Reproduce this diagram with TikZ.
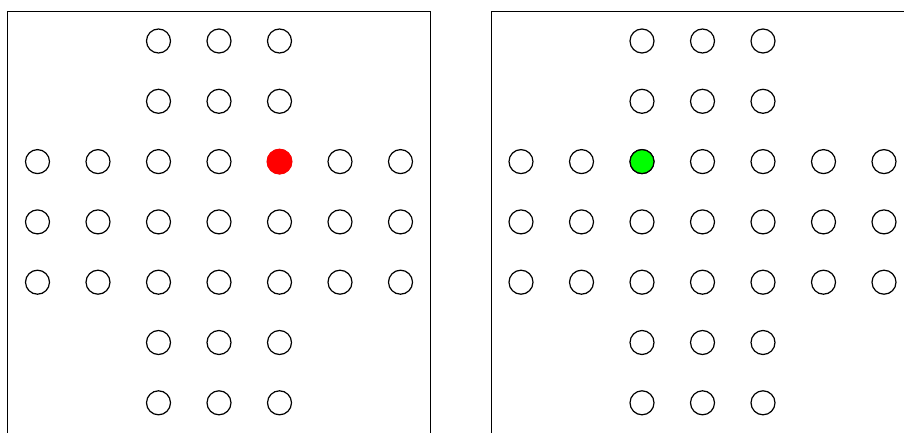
\documentclass[tikz,border=0pt]{standalone}
\definecolor{pegred}{RGB}{255,0,0}
\definecolor{peggreen}{RGB}{0,255,0}
\tikzset{
  hole/.style={circle, draw=black, line width=1.2pt, minimum size=24pt, inner sep=0pt},
  redpeg/.style={circle, fill=pegred, minimum size=26pt, inner sep=0pt},
  greenpeg/.style={circle, draw=black, line width=1.2pt, fill=peggreen, minimum size=24pt, inner sep=0pt},
  board/.style={draw=black, line width=0.9pt}
}
\begin{document}
\begin{tikzpicture}[x=1pt,y=-1pt]
\useasboundingbox (0,0) rectangle (904,433);
\draw[board] (7.5,440) -- (7.5,11) -- (430.5,11) -- (430.5,440);
\draw[board] (491.5,440) -- (491.5,11) -- (910,11);
\foreach \r in {0,...,6}{
  \foreach \c in {0,...,6}{
    \pgfmathtruncatemacro{\inside}{(\r>=2 && \r<=4) || (\c>=2 && \c<=4) ? 1 : 0}
    \ifnum\inside=1
      \node[hole] (L\r\c) at ({37.5+60.5*\c},{41+60.3*\r}) {};
      \node[hole] (R\r\c) at ({521+60.5*\c},{41+60.3*\r}) {};
    \fi
  }
}
\node[redpeg] (red) at (L24) {};
\node[greenpeg] (green) at (R22) {};
\end{tikzpicture}
\end{document}
